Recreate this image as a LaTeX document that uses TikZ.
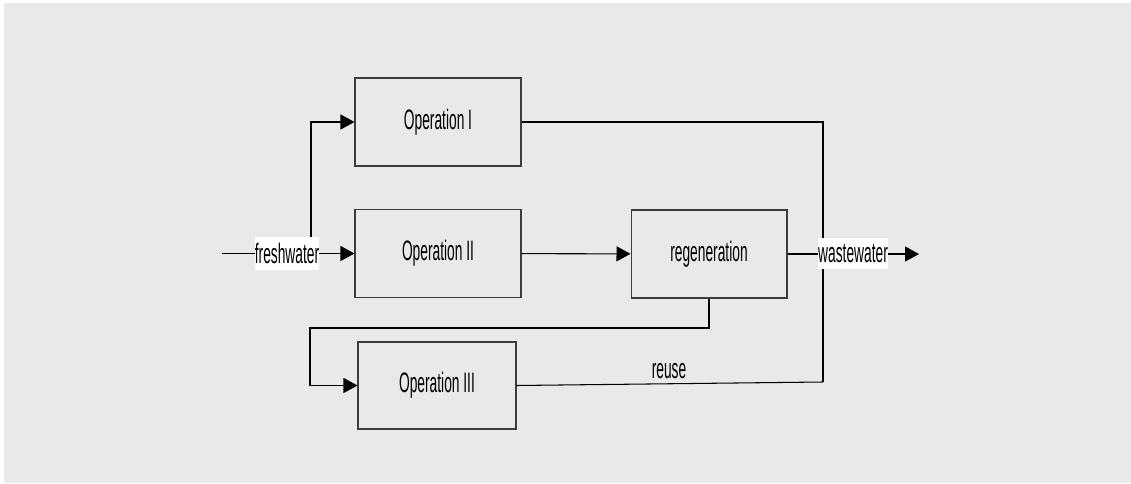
\documentclass[tikz,border=0pt]{standalone}
\usepackage{fontspec}
\usepackage{xcolor}
\usepackage{tikz}
\usetikzlibrary{arrows.meta,calc,positioning}
\newfontfamily\narrowfont[FakeStretch=0.49]{Liberation Sans}
\definecolor{bgcol}{HTML}{E9E9E9}
\definecolor{boxcol}{HTML}{3C3C3C}

\begin{document}
\begin{tikzpicture}[x = 0.02cm, y = -0.02cm]
	\useasboundingbox (0,0) rectangle (1131,483);
	\fill[bgcol] (4,3) rectangle (1131,483);
	\tikzstyle{every node} = [draw = boxcol, line width = 0.6pt, minimum width = 3.32cm, minimum height = 1.76cm, font = \narrowfont\fontsize{16}{18}\selectfont]
	\tikzstyle{arr} = [-{Triangle[length = 0.28cm, width = 0.3cm]}]
\node (1) at (438,122) {Operation I};
\node (2) at (438,253.5) {Operation II};
\node[minimum width = 3.12cm] (3) at (709,254) {regeneration};
\node[minimum width = 3.16cm, minimum height = 1.74cm] (4) at (437,385.5) {Operation III};

\coordinate (0) at (222,253.5);
\coordinate (5) at (311,253.5);
\coordinate (6) at (823,382);
\coordinate (7) at (310,328);
\coordinate (8) at (919,254);

	\path[draw, line width = 0.6pt, arr] (0) -- (2);
	\path[draw, line width = 0.6pt, arr] (5) |- (1);
	\path[draw, line width = 0.6pt, arr] (2) -- (3);
	\path[draw, line width = 0.6pt, arr] (3) -- (8);
	\path[draw, line width = 0.6pt] (1) -| (6);
	\path[draw, line width = 0.6pt] (4.east) -- (6);
	\path[draw, line width = 0.6pt, arr] (3.south) |- (7) |- (4.west);
    \node[draw = none, fill = white, minimum width = 0, minimum height = 0.64cm, inner xsep = 0]  (9) at (287,253.5)  {freshwater};
    \node[draw = none, fill = white, minimum width = 0, minimum height = 0.62cm, inner xsep = 0]  (10) at (853,253.5)  {wastewater};
    \node[draw = none, minimum width = 0, minimum height = 0]  (11) at (669,371)  {reuse};
	\end{tikzpicture}
\end{document}
